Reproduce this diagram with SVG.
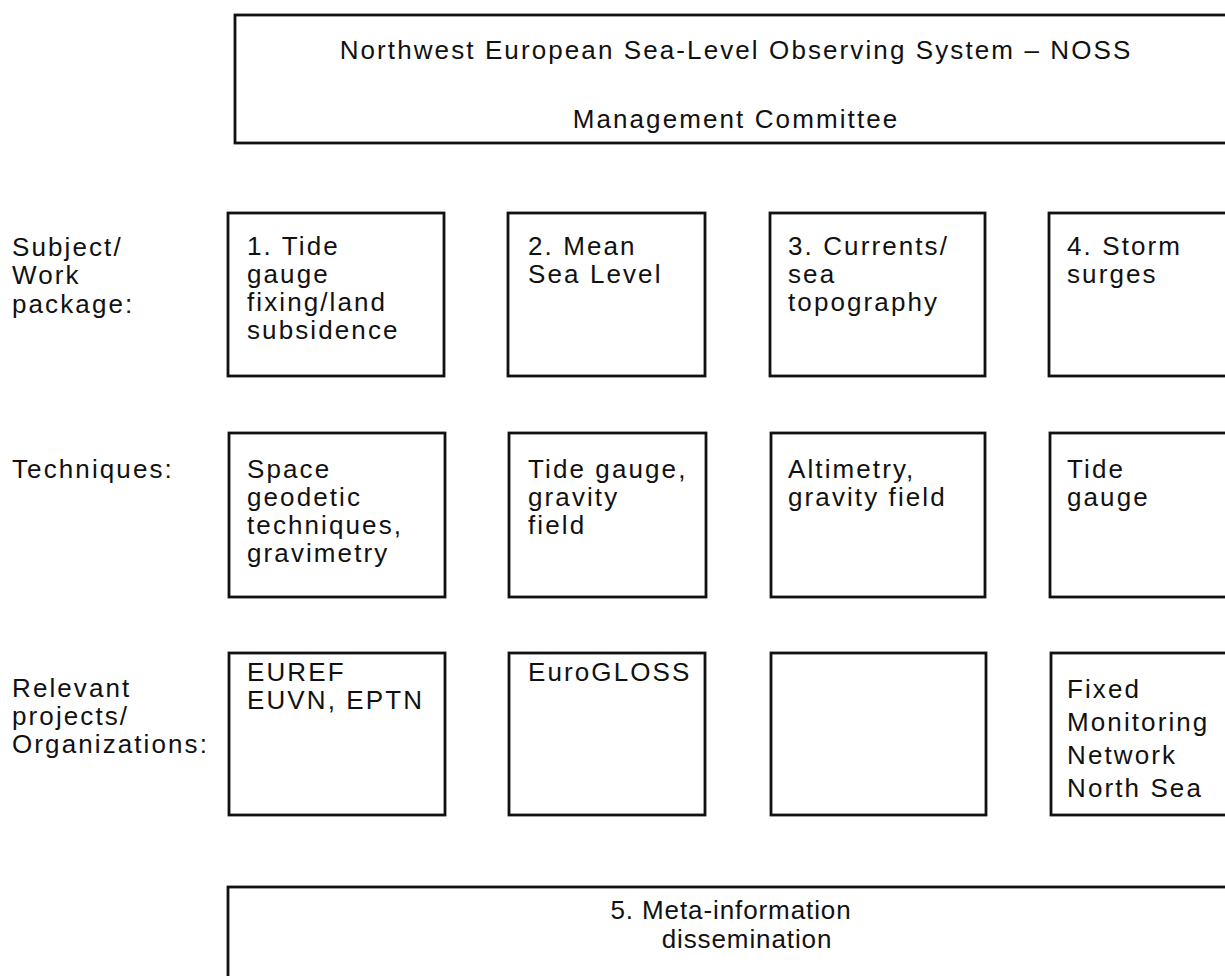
<svg xmlns="http://www.w3.org/2000/svg" width="1225" height="976" viewBox="0 0 1225 976">
  <style>
    .box { fill: #ffffff; stroke: #111111; stroke-width: 2.8; }
    .t { font-family: "Liberation Sans", Arial, Helvetica, sans-serif; font-size: 26px; letter-spacing: 2.1px; fill: #111111; }
    .c { text-anchor: middle; }
    .s { letter-spacing: 0.9px; }
  </style>
  <rect width="1225" height="976" fill="#ffffff"/>

  <!-- management header -->
  <g id="noss-committee">
    <rect class="box" x="235" y="15" width="1010" height="128"/>
    <text class="t c" x="736" y="59">Northwest European Sea-Level Observing System – NOSS</text>
    <text class="t c" x="736" y="128">Management Committee</text>
  </g>

  <!-- row captions -->
  <g id="label-subject">
    <text class="t" x="12" y="256">Subject/</text>
    <text class="t" x="12" y="284">Work</text>
    <text class="t" x="12" y="313">package:</text>
  </g>
  <g id="label-techniques">
    <text class="t" x="12" y="478">Techniques:</text>
  </g>
  <g id="label-projects">
    <text class="t" x="12" y="697">Relevant</text>
    <text class="t" x="12" y="725">projects/</text>
    <text class="t" x="12" y="753">Organizations:</text>
  </g>

  <!-- work packages -->
  <g id="wp1">
    <rect class="box" x="228" y="213" width="216" height="163"/>
    <text class="t" x="247" y="255">1. Tide</text>
    <text class="t" x="247" y="283">gauge</text>
    <text class="t" x="247" y="311">fixing/land</text>
    <text class="t" x="247" y="339">subsidence</text>
  </g>
  <g id="wp2">
    <rect class="box" x="508" y="213" width="197" height="163"/>
    <text class="t" x="528" y="255">2. Mean</text>
    <text class="t" x="528" y="283">Sea Level</text>
  </g>
  <g id="wp3">
    <rect class="box" x="770" y="213" width="215" height="163"/>
    <text class="t" x="788" y="255">3. Currents/</text>
    <text class="t" x="788" y="283">sea</text>
    <text class="t" x="788" y="311">topography</text>
  </g>
  <g id="wp4">
    <rect class="box" x="1049" y="213" width="200" height="163"/>
    <text class="t" x="1067" y="255">4. Storm</text>
    <text class="t" x="1067" y="283">surges</text>
  </g>

  <!-- techniques -->
  <g id="tech1">
    <rect class="box" x="229" y="433" width="216" height="164"/>
    <text class="t" x="247" y="478">Space</text>
    <text class="t" x="247" y="506">geodetic</text>
    <text class="t" x="247" y="534">techniques,</text>
    <text class="t" x="247" y="562">gravimetry</text>
  </g>
  <g id="tech2">
    <rect class="box" x="509" y="433" width="197" height="164"/>
    <text class="t" x="528" y="478">Tide gauge,</text>
    <text class="t" x="528" y="506">gravity</text>
    <text class="t" x="528" y="534">field</text>
  </g>
  <g id="tech3">
    <rect class="box" x="771" y="433" width="214" height="164"/>
    <text class="t" x="788" y="478">Altimetry,</text>
    <text class="t" x="788" y="506">gravity field</text>
  </g>
  <g id="tech4">
    <rect class="box" x="1050" y="433" width="200" height="164"/>
    <text class="t" x="1067" y="478">Tide</text>
    <text class="t" x="1067" y="506">gauge</text>
  </g>

  <!-- related projects and organisations -->
  <g id="org1">
    <rect class="box" x="229" y="653" width="216" height="162"/>
    <text class="t" x="247" y="681">EUREF</text>
    <text class="t" x="247" y="709">EUVN, EPTN</text>
  </g>
  <g id="org2">
    <rect class="box" x="509" y="653" width="196" height="162"/>
    <text class="t" x="528" y="681">EuroGLOSS</text>
  </g>
  <g id="org3">
    <rect class="box" x="771" y="653" width="215" height="162"/>
  </g>
  <g id="org4">
    <rect class="box" x="1051" y="653" width="200" height="162"/>
    <text class="t" x="1067" y="698">Fixed</text>
    <text class="t" x="1067" y="731">Monitoring</text>
    <text class="t" x="1067" y="764">Network</text>
    <text class="t" x="1067" y="797">North Sea</text>
  </g>

  <!-- dissemination -->
  <g id="wp5">
    <rect class="box" x="228" y="887" width="1010" height="110"/>
    <text class="t s c" x="731" y="919">5. Meta-information</text>
    <text class="t s c" x="747" y="948">dissemination</text>
  </g>

  <g id="connectors"/>
</svg>
